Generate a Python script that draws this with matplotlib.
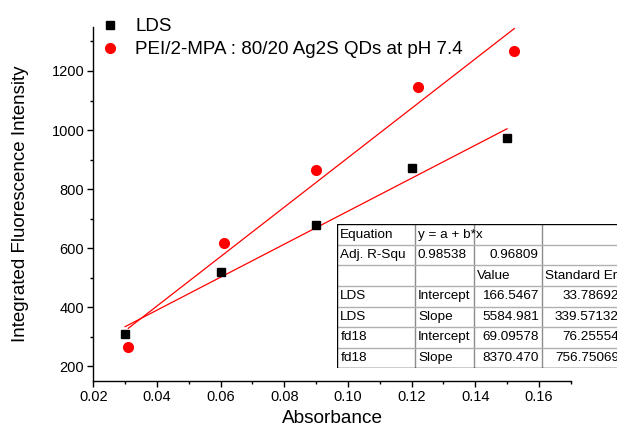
import matplotlib
matplotlib.use("Agg")
import matplotlib.pyplot as plt
import numpy as np
from matplotlib.ticker import MultipleLocator, FormatStrFormatter

plt.rcParams['font.family'] = ['Liberation Sans', 'DejaVu Sans']

# Data
lds_x = [0.030, 0.060, 0.090, 0.120, 0.150]
lds_y = [310, 519, 677, 870, 973]
pei_x = [0.031, 0.061, 0.090, 0.122, 0.1523]
pei_y = [266, 619, 863, 1147, 1268]

# Fit parameters from the table
lds_fit = (166.5467, 5584.981)
pei_fit = (69.09578, 8370.470)

series_labels = ["LDS", "PEI/2-MPA : 80/20 Ag2S QDs at pH 7.4"]

table_rows = [
    ["Equation", "y = a + b*x", "", ""],
    ["Adj. R-Squ", "0.98538", "0.96809", ""],
    ["", "", "Value", "Standard Er"],
    ["LDS", "Intercept", "166.5467", "33.78692"],
    ["LDS", "Slope", "5584.981", "339.57132"],
    ["fd18", "Intercept", "69.09578", "76.25554"],
    ["fd18", "Slope", "8370.470", "756.75069"],
]

W, H = 617, 434
fig = plt.figure(figsize=(W / 100, H / 100), dpi=100)
ax = fig.add_axes([93.3 / W, 1 - 381 / H, (570.7 - 93.3) / W, (381 - 26.7) / H])

ax.plot(lds_x, lds_y, 's', color='black', markersize=6, label=series_labels[0], zorder=3)
ax.plot(pei_x, pei_y, 'o', color='red', markersize=7, label=series_labels[1], zorder=3)

for xs, (a, b) in ((lds_x, lds_fit), (pei_x, pei_fit)):
    xx = np.array([min(xs), max(xs)])
    ax.plot(xx, a + b * xx, '-', color='red', lw=0.9, zorder=2)

ax.set_xlim(0.02, 0.17)
ax.set_ylim(150, 1350)
ax.xaxis.set_major_locator(MultipleLocator(0.02))
ax.xaxis.set_minor_locator(MultipleLocator(0.01))
ax.xaxis.set_major_formatter(FormatStrFormatter('%.2f'))
ax.yaxis.set_major_locator(MultipleLocator(200))
ax.yaxis.set_minor_locator(MultipleLocator(100))
for s in ('top', 'right'):
    ax.spines[s].set_visible(False)
for s in ('left', 'bottom'):
    ax.spines[s].set_linewidth(1.0)
ax.tick_params(which='major', direction='out', length=4.5, width=1.0, labelsize=10.5, pad=2)
ax.tick_params(which='minor', direction='out', length=2.5, width=1.0)

ax.set_xlabel("Absorbance", fontsize=13.7, labelpad=4)
ax.set_ylabel("Integrated Fluorescence Intensity", fontsize=13.5, labelpad=16)

leg = ax.legend(loc='upper left', bbox_to_anchor=(0.0, 1.045), frameon=False,
                fontsize=13.5, handletextpad=0.83, borderaxespad=0, labelspacing=0.3,
                handlelength=1.0)

# Table drawn in pixel coordinates
tx0, tx1 = 337.3, 622
ty0, ty1 = 224.3, 368.3
tab = fig.add_axes([tx0 / W, 1 - ty1 / H, (tx1 - tx0) / W, (ty1 - ty0) / H])
tab.set_xlim(tx0, tx1)
tab.set_ylim(ty1, ty0)
tab.axis('off')
tab.add_patch(plt.Rectangle((tx0, ty0), tx1 - tx0, ty1 - ty0, facecolor='white',
                            edgecolor='none', zorder=0))
col_edges = [337.3, 415.0, 474.3, 541.7, 622]
row_edges = np.linspace(ty0, ty1, len(table_rows) + 1)
for xe in col_edges[1:-1]:
    tab.plot([xe, xe], [ty0, ty1], color='#8c8c8c', lw=1.0)
for ye in row_edges[1:-1]:
    tab.plot([tx0, tx1], [ye, ye], color='#b0b0b0', lw=1.0)
tab.plot([tx0, tx0], [ty0, ty1], color='black', lw=1.0)
tab.plot([tx0, tx1], [ty0, ty0], color='black', lw=1.0)
tab.plot([tx0, tx1], [ty1, ty1], color='black', lw=1.0)

num_cols = {2, 3}
for r, row in enumerate(table_rows):
    yc = (row_edges[r] + row_edges[r + 1]) / 2
    for c, txt in enumerate(row):
        if not txt:
            continue
        is_num = c in num_cols and txt[0].isdigit()
        if is_num:
            tab.text(col_edges[c + 1] - 3, yc, txt, ha='right', va='center', fontsize=9.7)
        else:
            tab.text(col_edges[c] + 3, yc, txt, ha='left', va='center', fontsize=9.7)

fig.savefig("out.png", dpi=100)
